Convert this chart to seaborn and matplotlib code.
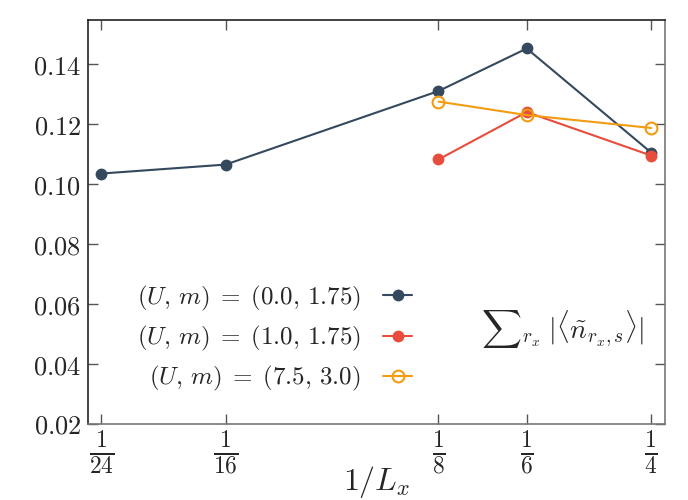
import numpy as np
import pandas as pd
import seaborn as sns
import matplotlib.pyplot as plt

# data
x_all = [1 / 24, 1 / 16, 1 / 8, 1 / 6, 1 / 4]
x_tick_labels = [r"$\frac{1}{24}$", r"$\frac{1}{16}$", r"$\frac{1}{8}$",
                 r"$\frac{1}{6}$", r"$\frac{1}{4}$"]

x_u0 = [1 / 24, 1 / 16, 1 / 8, 1 / 6, 1 / 4]
y_u0 = [0.1035, 0.1065, 0.1310, 0.1452, 0.1105]

x_u1 = [1 / 8, 1 / 6, 1 / 4]
y_u1 = [0.1082, 0.1240, 0.1095]

x_u75 = [1 / 8, 1 / 6, 1 / 4]
y_u75 = [0.1275, 0.1230, 0.1187]

labels = [r"$(U,\,m)\;=\;(0.0,\,1.75)$", r"$(U,\,m)\;=\;(1.0,\,1.75)$",
          r"$(U,\,m)\;=\;(7.5,\,3.0)$"]
colors = ["#34495e", "#e74c3c", "#f39c12"]

sns.set_style("ticks")
plt.rcParams["mathtext.fontset"] = "cm"
plt.rcParams["font.family"] = ["DejaVu Serif"]

fig = plt.figure(figsize=(6.88, 5), dpi=100)
ax = fig.add_axes([0.128, 0.152, 0.839, 0.808])

series = [(x_u0, y_u0), (x_u1, y_u1), (x_u75, y_u75)]
for i, (xs, ys) in enumerate(series):
    df = pd.DataFrame({"x": xs, "y": ys})
    kw = dict(marker="o", markersize=8.5, linewidth=1.5, color=colors[i],
              label=labels[i], markeredgecolor=colors[i])
    if i == 2:
        kw["markerfacecolor"] = "none"
        kw["markeredgewidth"] = 1.5
    else:
        kw["markeredgewidth"] = 0
    sns.lineplot(data=df, x="x", y="y", ax=ax, **kw)

ax.set_xscale("log")
ax.set_xlim(np.exp(np.log(1 / 24) - 0.043), np.exp(np.log(1 / 4) + 0.046))
ax.set_ylim(0.02, 0.1547)
ax.set_xticks(x_all)
ax.set_xticklabels(x_tick_labels, fontsize=24)
ax.minorticks_off()
yt = [0.02, 0.04, 0.06, 0.08, 0.10, 0.12, 0.14]
ax.set_yticks(yt)
ax.set_yticklabels([r"$%.2f$" % v for v in yt], fontsize=19)
ax.tick_params(direction="in", top=True, right=True, length=7, width=1,
               color="#555555", pad=5)
ax.tick_params(axis="x", pad=3)
ax.set_xlabel(r"$1/L_x$", fontsize=23, labelpad=-17)
ax.xaxis.set_label_coords(0.5, -0.1)
ax.set_ylabel("")

ax.spines["left"].set_color("#222222")
ax.spines["top"].set_color("#222222")
ax.spines["bottom"].set_color("#777777")
ax.spines["right"].set_color("#777777")
for s in ax.spines.values():
    s.set_linewidth(1.2)

ax.legend(loc="lower right", bbox_to_anchor=(0.6, 0.02), frameon=False,
          markerfirst=False, fontsize=18, handlelength=1.15, labelspacing=0.45,
          handletextpad=0.9)

ax.text(0.823, 0.235, r"${\sum}_{r_x}\;|\langle \tilde{n}_{r_x,s}\rangle|$",
        transform=ax.transAxes, ha="center", va="center", fontsize=20)

plt.savefig("out.png", dpi=100)
plt.close()
